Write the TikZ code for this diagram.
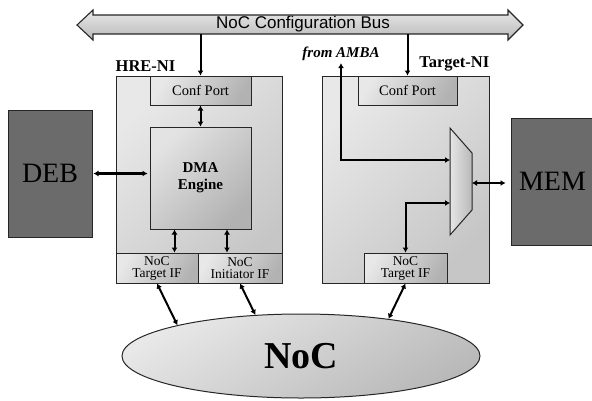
\documentclass[tikz,border=0pt]{standalone}
\usepackage{fontspec}
\setmainfont{Liberation Serif}
\newfontfamily\busfont{Liberation Sans}
\usetikzlibrary{arrows.meta,shapes.geometric,positioning}

\tikzset{
  frame/.style={draw=black!85, line width=1pt, inner sep=0pt},
  nibox/.style={frame, top color=gray!18, bottom color=gray!45, shading angle=45},
  portbox/.style={frame, top color=gray!18, bottom color=gray!60, shading angle=60,
    font=\fontsize{14.5}{16}\selectfont},
  ifbox/.style={portbox, align=center, font=\fontsize{13.5}{12}\selectfont},
  dmabox/.style={frame, top color=gray!22, bottom color=gray!60, shading angle=45,
    align=center, font=\bfseries\fontsize{15}{17}\selectfont},
  extbox/.style={frame, fill=black!58, font=\fontsize{28}{30}\selectfont},
  nilabel/.style={inner sep=0pt, font=\bfseries\fontsize{16.5}{18}\selectfont},
  link/.style={line width=2pt, {Latex[length=5pt,width=6pt]}-{Latex[length=5pt,width=6pt]}},
  feed/.style={line width=2pt, -{Latex[length=5pt,width=6pt]}}
}

\begin{document}
\begin{tikzpicture}[x=1pt, y=-1pt]
    \useasboundingbox (0,0) rectangle (592,400);

    % Configuration bus
    \draw[black!85, line width=1.1pt, top color=gray!18, bottom color=gray!55]
        (77,25) -- (93,10) -- (93,15) -- (508,15) -- (508,10) -- (523,25)
        -- (508,40) -- (508,34) -- (93,34) -- (93,40) -- cycle;
    \node[font=\busfont\fontsize{17}{19}\selectfont] (bus) at (303,24.5) {NoC Configuration Bus};
    \coordinate (busb) at (300,34);

    % HRE network interface
    \node[nibox, minimum width=166pt, minimum height=207pt] (hre) at (199,179.5) {};
    \node[nilabel, anchor=base west] (hrelab) at ([yshift=4pt]hre.north west) {HRE-NI};
    \node[portbox, minimum width=101pt, minimum height=29pt] (conf1) at (200.5,90.5) {Conf Port};
    \node[dmabox, minimum width=101pt, minimum height=102pt] (dma) at (200.5,178) {DMA\\Engine};
    \node[ifbox, minimum width=82pt, minimum height=30pt] (tif1) at (157,268) {NoC\\Target IF};
    \node[ifbox, minimum width=84pt, minimum height=30pt] (iif) at (240,268) {NoC\\Initiator IF};

    % Target network interface
    \node[nibox, minimum width=167pt, minimum height=207pt] (tni) at (405.5,179.5) {};
    \node[nilabel, anchor=base east] (tnilab) at ([yshift=8pt]tni.north east) {Target-NI};
    \node[portbox, minimum width=99pt, minimum height=29pt] (conf2) at (407.5,90.5) {Conf Port};
    \node[ifbox, minimum width=83pt, minimum height=30pt] (tif2) at (405.5,268) {NoC\\Target IF};

    % Multiplexer
    \draw[black!85, line width=1pt, left color=gray!20, right color=gray!55]
        (450,128) -- (472,153) -- (472,210) -- (450,235) -- cycle;
    \coordinate (muxa) at (450,160);
    \coordinate (muxb) at (450,203);
    \coordinate (muxo) at (472,183);

    % External blocks
    \node[extbox, minimum width=84pt, minimum height=127pt] (deb) at (50,173.5) {DEB};
    \node[extbox, minimum width=83pt, minimum height=127pt] (mem) at (552.5,181.5) {MEM};
    \node[font=\bfseries\itshape\fontsize{15}{17}\selectfont, inner sep=2pt] (amba) at (341,54) {from AMBA};

    % NoC
    \node[ellipse, draw=black!85, line width=1pt, top color=gray!18, bottom color=gray!55,
        shading angle=30, minimum width=358pt, minimum height=84pt, inner sep=0pt,
        font=\bfseries\fontsize{38}{40}\selectfont] (noc) at (301,356) {NoC};

    % Connections
    \draw[feed] (conf1.north |- busb) -- (conf1.north);
    \draw[feed] (conf2.north |- busb) -- (conf2.north);
    \draw[link] (conf1.south) -- (dma.north);
    \draw[link] ([xshift=-26pt]dma.south) -- ([xshift=-26pt]dma.south |- tif1.north);
    \draw[link] ([xshift=26.5pt]dma.south) -- ([xshift=26.5pt]dma.south |- iif.north);
    \draw[link, line width=2.6pt, shorten <=1pt, shorten >=2pt] (deb.east) -- (deb.east -| dma.west);
    \draw[link] (amba.south) |- (muxa);
    \draw[link] (tif2.north) |- (muxb);
    \draw[link, shorten >=5pt] (muxo) -- (muxo -| mem.west);
    \draw[link] (tif1.south) -- (noc.166);
    \draw[link] (iif.south) -- (noc.138);
    \draw[link] (tif2.south) -- (noc.23);
\end{tikzpicture}
\end{document}
